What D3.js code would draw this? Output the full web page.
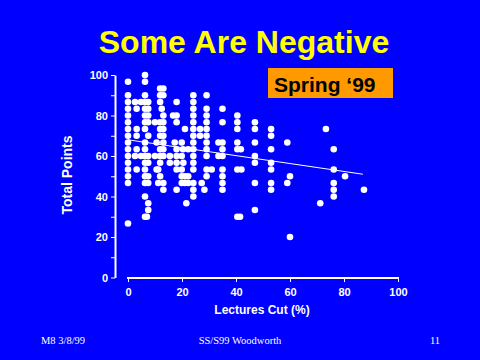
<!DOCTYPE html>
<html><head><meta charset="utf-8">
<script src="https://cdn.jsdelivr.net/npm/d3@7"></script>
<style>
html,body{margin:0;padding:0;background:#0000ff;}
svg{display:block;}
</style></head>
<body>
<svg id="c" width="480" height="360"></svg>
<script>
// Lectures cut (%) for each student
const lecturesCut = [
  0,0,0,0,0,0,0,0,0,0,0,0,0,0,0,0,
  2.6,4.8,3.2,3.2,3.2,3.2,2.6,4.8,3.2,
  6.3,6.3,6.3,6.3,6.3,6.3,6.3,6.3,6.3,6.3,6.3,6.3,6.3,6.3,6.3,6.3,6.3,7.0,
  7.5,7.5,7.5,7.5,7.5,7.5,7.5,7.5,7.5,7.5,7.5,
  10,10,10.6,10.6,
  11.9,11.9,11.9,12.5,11.9,11.9,11.9,11.9,11.9,11.9,11.9,
  13.1,13.1,13.1,13.1,13.1,13.1,13.1,13.1,13.1,13.1,13.1,
  11.2,11.2,
  15.5,15.5,16.7,17.3,
  18,18,18,18,18,18,18,18,
  19.9,20.4,19.9,20.5,19.9,19.9,19.9,
  21.1,21.1,21.1,21.6,
  22.3,22.3,22.3,
  24.2,24.2,24.2,24.2,24.2,24.2,24.2,24.2,24.2,24.2,24.2,24.2,24.2,24.2,24.2,
  26.7,26.7,27.3,28.3,
  29.1,29.1,29.1,29.1,29.1,29.1,29.1,29.1,29.1,29.1,29.1,
  31,33.5,33.5,
  35,35,35,35,35,35,35,35,35,
  40.5,40.5,40.5,40.5,40.5,41.8,40.5,42,40.5,41.5,
  47,47,47,47,47,47,47,
  53,53,53,53,53,53,53,
  59,59,60,60,
  71.2,73.3,
  76.2,76.2,76.2,76.2,76.2,
  80.4,87.4
];
// Total points for each student (same order)
const totalPoints = [
  96.7,90,86.7,83.3,80,76.7,73.3,70,66.7,63.3,60,56.7,53.3,50,46.7,26.7,
  86.7,86.7,83.3,73.3,70,63.3,60,60,53.3,
  100,96.7,90,86.7,83.3,80,76.7,73.3,66.7,63.3,60,56.7,53.3,50,46.7,40,30,30,
  86.7,83.3,80,76.7,70,60,56.7,50,46.7,36.7,33.3,
  76.7,60,66.7,53.3,
  93.3,90,86.7,83.3,76.7,73.3,70,63.3,60,56.7,50,
  93.3,90,80,76.7,73.3,70,66.7,63.3,60,46.7,43.3,
  53.3,46.7,
  60,56.7,80,66.7,
  86.7,80,76.7,63.3,60,56.7,53.3,43.3,
  66.7,63.3,60,56.7,53.3,50,46.7,
  73.3,50,46.7,36.7,
  63.3,50,46.7,
  90,86.7,83.3,80,76.7,73.3,70,66.7,63.3,60,56.7,53.3,46.7,43.3,40,
  73.3,70,46.7,43.3,
  90,83.3,80,76.7,73.3,70,66.7,63.3,60,53.3,50,
  53.3,66.7,60,
  83.3,76.7,66.7,63.3,60,53.3,50,46.7,43.3,
  80,76.7,73.3,66.7,63.3,63.3,53.3,53.3,30,30,
  76.7,73.3,66.7,60,56.7,46.7,33.3,
  73.3,70,63.3,56.7,53.3,46.7,43.3,
  66.7,46.7,50,20,
  36.7,73.3,
  63.3,53.3,46.7,43.3,40,
  50,43.3
];
// Trend line end points
const trendX = [0, 87];
const trendY = [68, 51];

const xTicks = [0,20,40,60,80,100];
const yTicks = [0,10,20,30,40,50,60,70,80,90,100];
const yLabelTicks = [0,20,40,60,80,100];

const title = "Some Are Negative";
const tag = "Spring \u201899";
const xTitle = "Lectures Cut (%)";
const yTitle = "Total Points";
const footLeft = "M8 3/8/99";
const footMid = "SS/S99 Woodworth";
const footRight = "11";

const svg = d3.select("#c");
svg.append("rect").attr("width",480).attr("height",360).attr("fill","#0000ff");

const x = d3.scaleLinear().domain([0,100]).range([128,398]);
const y = d3.scaleLinear().domain([0,100]).range([277.5,75]);

const bold = "'Liberation Sans', Arial, sans-serif";

// title
svg.append("text").attr("x",244).attr("y",53).attr("text-anchor","middle")
  .attr("font-family",bold).attr("font-weight","bold").attr("font-size",32)
  .attr("fill","#ffff00").text(title);

// tag box
svg.append("rect").attr("x",268).attr("y",68).attr("width",125).attr("height",30).attr("fill","#ff9900");
svg.append("text").attr("x",274).attr("y",91.5)
  .attr("font-family",bold).attr("font-weight","bold").attr("font-size",21)
  .attr("fill","#000").text(tag);

// y axis
const yAxis = d3.axisLeft(y).tickValues(yTicks).tickSize(4).tickSizeOuter(0)
  .tickFormat(d => yLabelTicks.includes(d) ? d : "");
const gy = svg.append("g").attr("transform","translate(115,0)").call(yAxis);
gy.select(".domain").attr("stroke","#fff").attr("stroke-width",2);
gy.selectAll(".tick line").attr("stroke","#fff").attr("stroke-width",1);
gy.selectAll(".tick text").attr("fill","#fff").attr("font-family",bold)
  .attr("font-weight","bold").attr("font-size",11).attr("x",-7);

// x axis
const xAxis = d3.axisBottom(x).tickValues(xTicks).tickSize(4).tickSizeOuter(0);
const gx = svg.append("g").attr("transform","translate(0,278)").call(xAxis);
gx.select(".domain").attr("stroke","#fff").attr("stroke-width",2).attr("d","M127,0H399");
gx.selectAll(".tick line").attr("stroke","#fff").attr("stroke-width",1);
gx.selectAll(".tick text").attr("fill","#fff").attr("font-family",bold)
  .attr("font-weight","bold").attr("font-size",11).attr("y",10);

// axis titles
svg.append("text").attr("x",262).attr("y",314).attr("text-anchor","middle")
  .attr("font-family",bold).attr("font-weight","bold").attr("font-size",12)
  .attr("fill","#fff").text(xTitle);
svg.append("text").attr("transform","translate(72,175) rotate(-90)").attr("text-anchor","middle")
  .attr("font-family",bold).attr("font-weight","bold").attr("font-size",14)
  .attr("fill","#fff").text(yTitle);

// points
const pts = lecturesCut.map((d,i)=>({x:d,y:totalPoints[i]}));
svg.append("g").selectAll("circle").data(pts).join("circle")
  .attr("cx",d=>x(d.x)).attr("cy",d=>y(d.y)).attr("r",3.3).attr("fill","#fff");

// trend line
svg.append("line").attr("x1",x(trendX[0])).attr("y1",y(trendY[0]))
  .attr("x2",x(trendX[1])).attr("y2",y(trendY[1]))
  .attr("stroke","#fff").attr("stroke-width",1);

// footer
const serif = "'Liberation Serif','Times New Roman',serif";
svg.append("text").attr("x",41).attr("y",344).attr("font-family",serif).attr("font-size",10.5).attr("fill","#fff").text(footLeft);
svg.append("text").attr("x",240).attr("y",344).attr("text-anchor","middle").attr("font-family",serif).attr("font-size",10.5).attr("fill","#fff").text(footMid);
svg.append("text").attr("x",435).attr("y",344).attr("text-anchor","middle").attr("font-family",serif).attr("font-size",10.5).attr("fill","#fff").text(footRight);
</script>
</body></html>
